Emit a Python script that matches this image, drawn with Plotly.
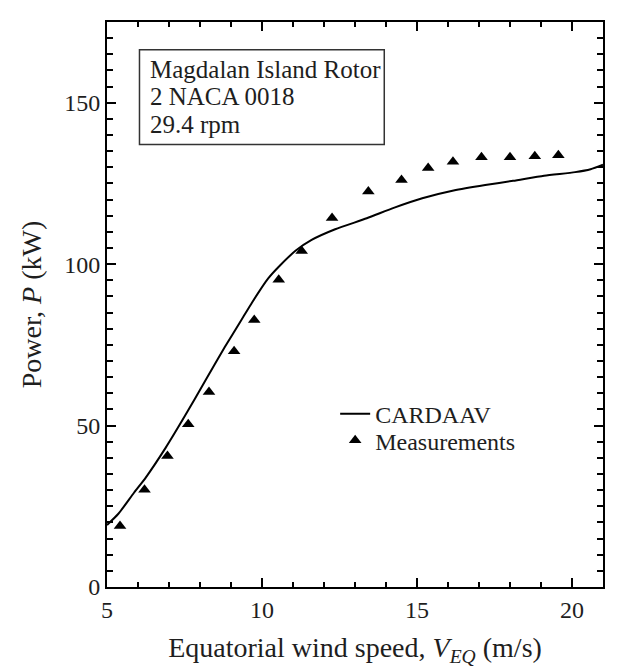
import plotly.graph_objects as go

# Measured power of the Magdalen Island rotor
meas_speed = [5.42, 6.21, 6.95, 7.62, 8.29, 9.10, 9.75, 10.54, 11.28, 12.26,
              13.43, 14.50, 15.36, 16.16, 17.08, 18.00, 18.80, 19.56]
meas_power = [18.9, 30.1, 40.6, 50.4, 60.4, 73.0, 82.7, 95.2, 104.1, 114.3,
              122.5, 126.1, 129.8, 131.7, 133.1, 133.1, 133.4, 133.7]

# CARDAAV prediction
calc_speed = [5.0, 5.36, 5.87, 6.25, 6.89, 7.52, 8.16, 8.80, 9.31, 9.69,
              10.20, 10.58, 11.09, 11.60, 12.36, 13.38, 14.27, 15.17, 16.18,
              17.20, 18.10, 19.10, 20.10, 20.60, 21.0]
calc_power = [19.2, 22.6, 29.2, 33.9, 43.1, 53.1, 63.7, 74.3, 82.3, 88.3,
              95.6, 99.6, 104.2, 107.5, 110.8, 114.2, 117.5, 120.4, 122.8,
              124.5, 125.8, 127.4, 128.5, 129.4, 130.8]

x_tick_vals = [5, 10, 15, 20]
y_tick_vals = [0, 50, 100, 150]
y_mid_tick_vals = [25, 75, 125, 175]
y_range = [0, 175]

rotor_info = ["Magdalan Island Rotor", "2 NACA 0018", "29.4 rpm"]

FONT = "Liberation Serif"
INK = "#1e1e1e"

fig = go.Figure()
fig.add_trace(go.Scatter(
    x=calc_speed, y=calc_power, mode="lines", name="CARDAAV",
    line=dict(color="black", width=2, shape="spline", smoothing=0.6),
    legend="legend",
))
fig.add_trace(go.Scatter(
    x=meas_speed, y=meas_power, mode="markers", name="Measurements",
    marker=dict(symbol="triangle-up", size=11, color="black"),
    legend="legend2",
))

axis_common = dict(
    showline=True, linecolor="black", linewidth=2, mirror="ticks",
    ticks="inside", tickcolor="black", tickwidth=2,
    showgrid=False, zeroline=False,
    tickfont=dict(family=FONT, size=24, color=INK),
)

fig.update_xaxes(
    range=[5, 21], tickvals=x_tick_vals, ticklen=9,
    minor=dict(dtick=1, ticks="inside", ticklen=5, tickcolor="black", tickwidth=2),
    title=dict(text="Equatorial wind speed, <i>V</i><sub><i>EQ</i></sub> (m/s)",
               font=dict(family=FONT, size=28, color=INK), standoff=16),
    **axis_common,
)
fig.update_yaxes(
    range=y_range, tickvals=y_tick_vals, ticklen=9,
    minor=dict(dtick=5, ticks="inside", ticklen=6, tickcolor="black", tickwidth=2),
    title=dict(text="Power, <i>P</i> (kW)",
               font=dict(family=FONT, size=28, color=INK), standoff=14),
    **axis_common,
)

# Framed rotor description in the upper left corner
fig.add_shape(type="rect", xref="paper", yref="paper",
              x0=0.0655, x1=0.559, y0=0.783, y1=0.951,
              line=dict(color="#333", width=1.5), fillcolor="white", layer="below")
for i, line in enumerate(rotor_info):
    fig.add_annotation(
        xref="paper", yref="paper", x=0.082, y=0.916 - i * 0.0487,
        xanchor="left", yanchor="middle", text=line, showarrow=False,
        font=dict(family=FONT, size=25, color=INK),
    )

legend_style = dict(xanchor="left", yanchor="middle",
                    font=dict(family=FONT, size=24, color=INK),
                    bgcolor="rgba(0,0,0,0)")

fig.update_layout(
    width=621, height=669,
    margin=dict(l=107, r=18, t=22, b=82, autoexpand=False),
    paper_bgcolor="white", plot_bgcolor="white",
    showlegend=True,
    legend=dict(x=0.46, y=0.306, **legend_style),
    legend2=dict(x=0.46, y=0.259, **legend_style),
    # unlabelled intermediate ticks every 25 kW on both vertical edges
    yaxis2=dict(overlaying="y", side="left", range=y_range,
                tickvals=y_mid_tick_vals, ticklen=9, showticklabels=False,
                showline=True, linecolor="black", linewidth=2, mirror="ticks",
                ticks="inside", tickcolor="black", tickwidth=2,
                showgrid=False, zeroline=False),
)

fig.write_html("out.html")
